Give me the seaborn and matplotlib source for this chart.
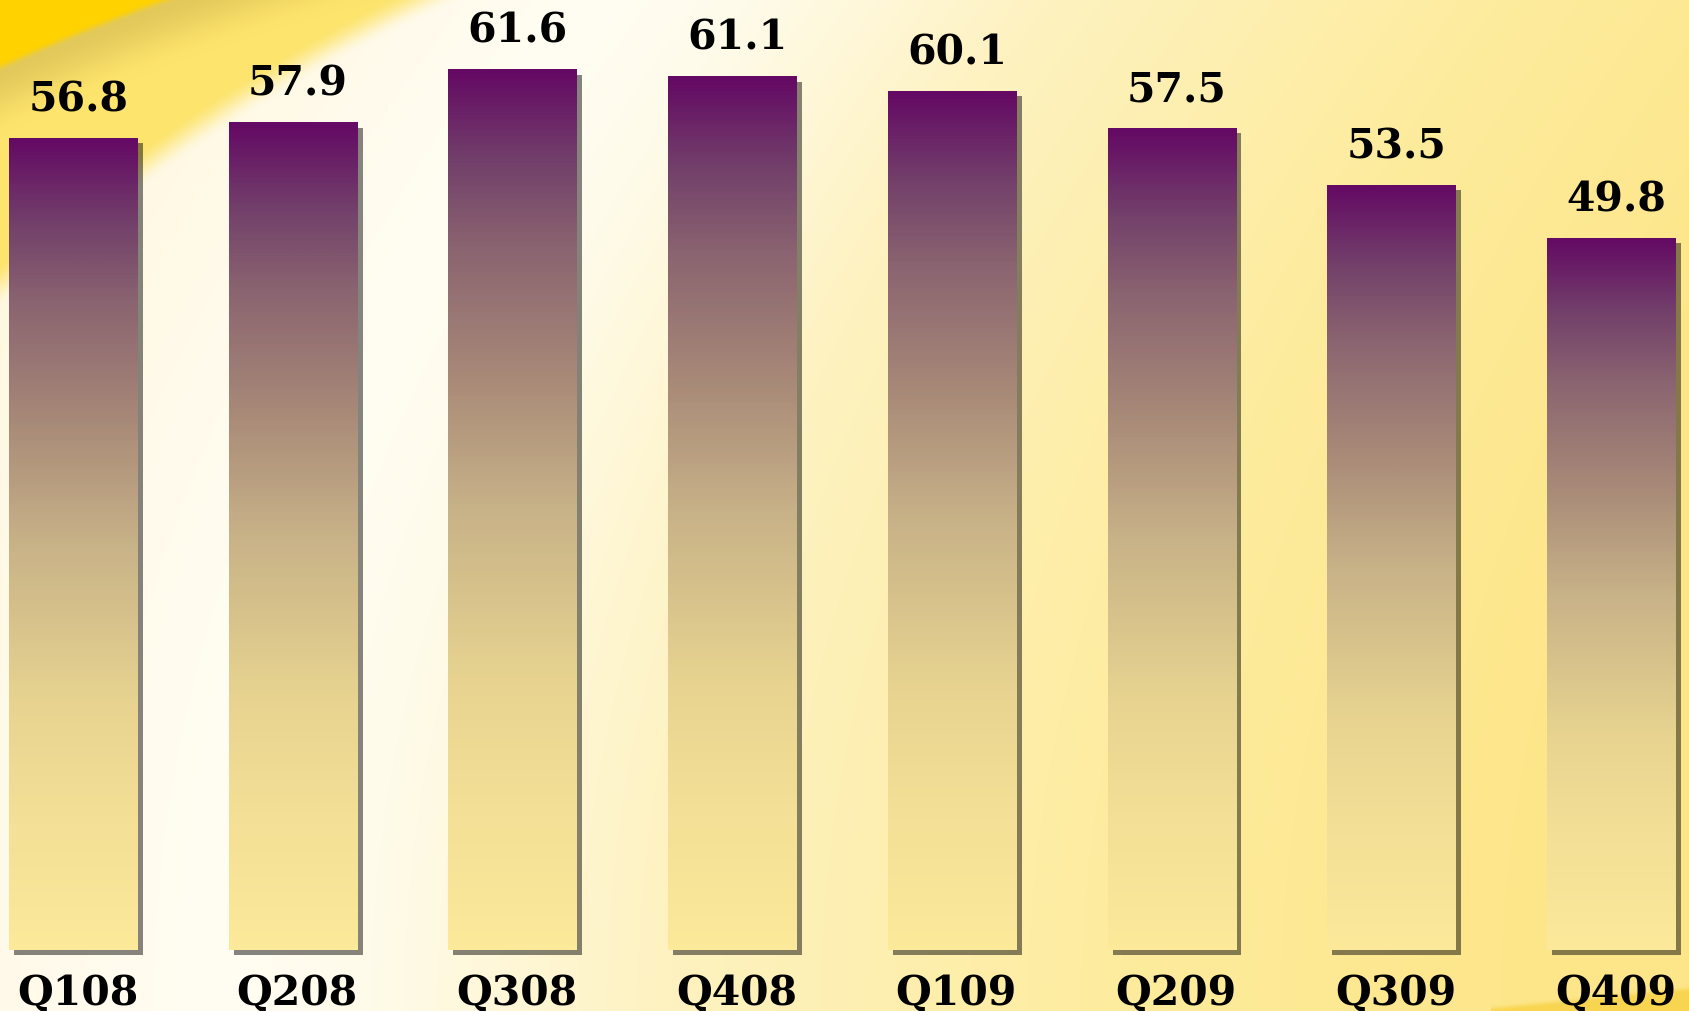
import numpy as np
import pandas as pd
import matplotlib
matplotlib.use("Agg")
import matplotlib.pyplot as plt
import matplotlib.colors as mcolors
import matplotlib.transforms as mtransforms
from matplotlib.patches import Rectangle
import seaborn as sns

# ---- data ----
quarters = ["Q108", "Q208", "Q308", "Q408", "Q109", "Q209", "Q309", "Q409"]
values = [56.8, 57.9, 61.6, 61.1, 60.1, 57.5, 53.5, 49.8]
value_labels = ["56.8", "57.9", "61.6", "61.1", "60.1", "57.5", "53.5", "49.8"]

df = pd.DataFrame({"quarter": quarters, "value": values})

sns.set_theme(style="white")
plt.rcParams["font.family"] = ["DejaVu Serif", "DejaVu Sans"]

W, H, DPI = 1689, 1012, 100
fig = plt.figure(figsize=(W / DPI, H / DPI), dpi=DPI)


def smooth(e0, e1, v):
    t = np.clip((v - e0) / (e1 - e0), 0, 1)
    return t * t * (3 - 2 * t)


def blend(base, col, a):
    c = np.array(mcolors.to_rgb(col))
    return base * (1 - a[..., None]) + c * a[..., None]


# ---- decorative background (swooshes) ----
yy, xx = np.mgrid[0:H, 0:W].astype(float)
xc = 220 + 380 * (1 - yy / H) ** 2
d = xx - xc
stops_d = [-600, -200, 0, 150, 450, 900, 1300]
stops_c = ["#fff6d8", "#fffaea", "#fffdf3", "#fffbea", "#fef2c0", "#fdec9e", "#fde68a"]
rgb = np.array([mcolors.to_rgb(c) for c in stops_c])
img = np.dstack([np.interp(d, stops_d, rgb[:, k]) for k in range(3)])
# yellow fringe (outside circle B, upper-left only)
rB = np.sqrt((xx - 1128) ** 2 + (yy - 1500) ** 2)
left = 1 - smooth(500, 700, xx)
img = blend(img, "#fde46c", smooth(1640, 1675, rB) * left)
# olive shadow near gold edge + gold corner (outside circle A)
rA = np.sqrt((xx - 879) ** 2 + (yy - 2000) ** 2)
leftA = 1 - smooth(300, 450, xx)
img = blend(img, "#dcc257", smooth(2060, 2120, rA) * 0.8 * leftA)
img = blend(img, "#ffd200", smooth(2118, 2128, rA) * leftA)
# small gold swoosh bottom-right
edge = H - 4 - (xx - 1490) * 0.1
img = blend(img, "#f8d550", smooth(edge - 3, edge + 5, yy) * (xx > 1490))

bg = fig.add_axes([0, 0, 1, 1], zorder=0)
bg.imshow(img, extent=[0, W, H, 0], aspect="auto", interpolation="bilinear")
bg.set_xlim(0, W)
bg.set_ylim(H, 0)
bg.axis("off")

# ---- main axes ----
ax = fig.add_axes([0, 0, 1, 1], zorder=1)
ax.patch.set_alpha(0)
sns.barplot(data=df, x="quarter", y="value", width=0.587, color="#640a64",
            ax=ax, saturation=1, zorder=3)
ax.axis("off")

cmap = mcolors.LinearSegmentedColormap.from_list(
    "bar", [(0.0, "#fce99a"), (0.15, "#f4e096"), (0.3, "#e8d490"),
            (0.5, "#c8b288"), (0.65, "#a88a78"), (0.8, "#8a6470"),
            (0.9, "#723f6a"), (1.0, "#640a64")])
grad = np.linspace(0, 1, 256).reshape(-1, 1)
shadow_tr = ax.transData + mtransforms.ScaledTranslation(5 / DPI, -5 / DPI, fig.dpi_scale_trans)

for patch, lab, q in zip(ax.patches, value_labels, quarters):
    x0 = patch.get_x()
    w = patch.get_width()
    h = patch.get_height()
    ax.add_patch(Rectangle((x0, 0), w, h, facecolor="#000000", alpha=0.48,
                           edgecolor="none", transform=shadow_tr, zorder=2))
    ax.imshow(grad, extent=[x0, x0 + w, 0, h], origin="lower", cmap=cmap,
              aspect="auto", zorder=3, interpolation="bilinear")
    patch.set_facecolor("none")
    patch.set_edgecolor("none")
    ax.annotate(lab, xy=(x0 + w / 2, h), xytext=(5, 28), textcoords="offset pixels",
                ha="center", va="baseline", fontsize=29.5, fontweight="bold",
                color="black", zorder=5)
    ax.annotate(q, xy=(x0 + w / 2, 0), xytext=(4, -54), textcoords="offset pixels",
                ha="center", va="baseline", fontsize=29.5, fontweight="bold",
                color="black", zorder=5)

ax.set_xlim(-0.334, 7.353)
ax.set_ylim(-4.27, 66.55)

fig.savefig("out.png", dpi=DPI)
